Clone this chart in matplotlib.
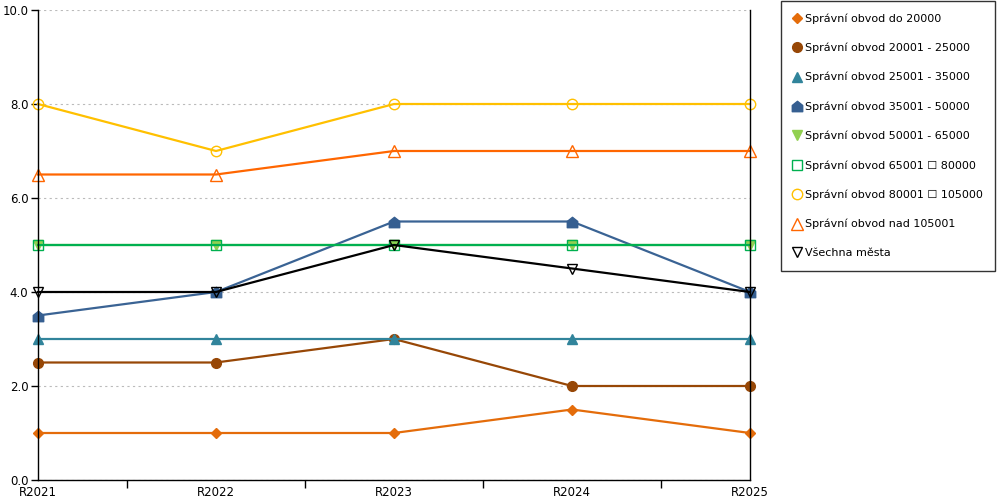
import matplotlib.pyplot as plt
from matplotlib.path import Path
from matplotlib.ticker import FixedLocator

years = ["R2021", "R2022", "R2023", "R2024", "R2025"]

labels = [
    "Správní obvod do 20000",
    "Správní obvod 20001 - 25000",
    "Správní obvod 25001 - 35000",
    "Správní obvod 35001 - 50000",
    "Správní obvod 50001 - 65000",
    "Správní obvod 65001 \u2610 80000",
    "Správní obvod 80001 \u2610 105000",
    "Správní obvod nad 105001",
    "Všechna města",
]

do_20000 = [1.0, 1.0, 1.0, 1.5, 1.0]
s20001_25000 = [2.5, 2.5, 3.0, 2.0, 2.0]
s25001_35000 = [3.0, 3.0, 3.0, 3.0, 3.0]
s35001_50000 = [3.5, 4.0, 5.5, 5.5, 4.0]
s50001_65000 = [5.0, 5.0, 5.0, 5.0, 5.0]
s65001_80000 = [5.0, 5.0, 5.0, 5.0, 5.0]
s80001_105000 = [8.0, 7.0, 8.0, 8.0, 8.0]
nad_105001 = [6.5, 6.5, 7.0, 7.0, 7.0]
vsechna = [4.0, 4.0, 5.0, 4.5, 4.0]

series = [do_20000, s20001_25000, s25001_35000, s35001_50000, s50001_65000,
          s65001_80000, s80001_105000, nad_105001, vsechna]

# little "house" marker (square with a pointed top)
house = Path([(-1, -1), (1, -1), (1, 0.2), (0, 1), (-1, 0.2), (-1, -1)],
             [Path.MOVETO] + [Path.LINETO] * 4 + [Path.CLOSEPOLY])

styles = [
    dict(color="#E46C0A", marker="D", ms=5.5, mfc="#E46C0A", mec="#E46C0A"),
    dict(color="#974706", marker="o", ms=7, mfc="#974706", mec="#974706"),
    dict(color="#31849B", marker="^", ms=7.5, mfc="#31849B", mec="#31849B"),
    dict(color="#3A6394", marker=house, ms=7.5, mfc="#365F91", mec="#365F91"),
    dict(color="#92D050", marker="v", ms=7.5, mfc="#92D050", mec="#92D050"),
    dict(color="#00B050", marker="s", ms=7, mfc="none", mec="#00B050"),
    dict(color="#FFC000", marker="o", ms=7.5, mfc="none", mec="#FFC000"),
    dict(color="#FF6600", marker="^", ms=8, mfc="none", mec="#FF6600"),
    dict(color="#000000", marker="v", ms=7.5, mfc="none", mec="#000000"),
]

plt.rcParams["font.family"] = ["DejaVu Sans"]

fig = plt.figure(figsize=(10, 5), dpi=100)
ax = fig.add_axes([0.038, 0.04, 0.712, 0.94])

x = range(len(years))
for vals, lab, st in zip(series, labels, styles):
    ax.plot(x, vals, label=lab, lw=1.6, mew=1, clip_on=False, **st)

ax.set_xlim(0, len(years) - 1)
ax.set_ylim(0, 10)
ax.set_yticks([0, 2, 4, 6, 8, 10])
ax.set_yticklabels(["{:.1f}".format(v) for v in [0, 2, 4, 6, 8, 10]])
ax.set_xticks(list(x))
ax.set_xticklabels(years)
ax.xaxis.set_minor_locator(FixedLocator([i + 0.5 for i in range(len(years) - 1)]))
ax.tick_params(axis="x", which="major", length=0, pad=4, labelsize=8.5)
ax.tick_params(axis="x", which="minor", length=6, width=1, direction="out")
ax.tick_params(axis="y", length=5, width=1, labelsize=8.5, pad=2)

ax.yaxis.grid(True, linestyle=(0, (2, 3)), color="#BBBBBB", lw=0.8)
ax.set_axisbelow(True)
ax.spines["top"].set_visible(False)
for s in ["left", "right", "bottom"]:
    ax.spines[s].set_color("black")
    ax.spines[s].set_linewidth(1)

handles, labs = ax.get_legend_handles_labels()
handles = [plt.Line2D([], [], linestyle="none", marker=h.get_marker(),
                      ms=h.get_markersize(), mfc=h.get_markerfacecolor(),
                      mec=h.get_markeredgecolor()) for h in handles]
leg = fig.legend(handles, labs, loc="upper left", bbox_to_anchor=(0.781, 0.998),
                 fontsize=8.0, frameon=True, fancybox=False, edgecolor="black",
                 handlelength=0.6, handletextpad=0.45, labelspacing=1.7,
                 borderpad=1.1, borderaxespad=0)
leg.get_frame().set_linewidth(1)

fig.savefig("out.png", dpi=100)
